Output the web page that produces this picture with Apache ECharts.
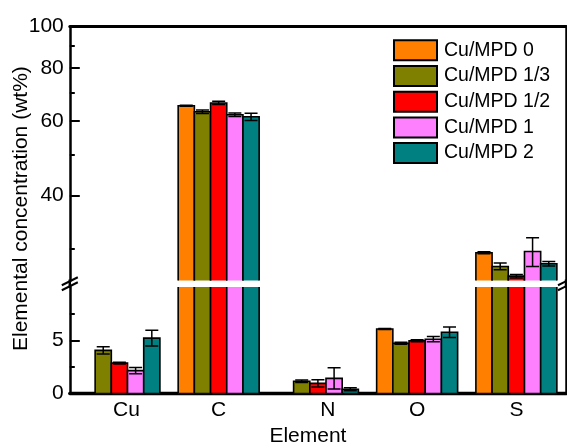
<!DOCTYPE html>
<html>
<head>
<meta charset="utf-8">
<script src="https://cdn.jsdelivr.net/npm/echarts@6/dist/echarts.min.js"></script>
<style>
  html, body { margin: 0; padding: 0; background: #fff; }
  #chart { width: 567px; height: 448px; }
</style>
</head>
<body>
<div id="chart"></div>
<script>
// Elements on the x axis and the five Cu/MPD ratios
const categories = ['Cu', 'C', 'N', 'O', 'S'];
const seriesNames = ['Cu/MPD 0', 'Cu/MPD 1/3', 'Cu/MPD 1/2', 'Cu/MPD 1', 'Cu/MPD 2'];

// Elemental concentration (wt%) and its error, ordered as categories
const mpd0 = [0, 65.1, 0, 6.05, 29.3];
const mpd0Err = [0, 0.2, 0, 0.05, 0.15];
const mpd13 = [4.05, 63.0, 1.15, 4.72, 27.2];
const mpd13Err = [0.33, 0.6, 0.12, 0.1, 0.5];
const mpd12 = [2.85, 66.1, 0.95, 4.95, 25.8];
const mpd12Err = [0.08, 0.6, 0.33, 0.1, 0.25];
const mpd1 = [2.15, 62.0, 1.42, 5.1, 29.5];
const mpd1Err = [0.3, 0.6, 1.0, 0.25, 2.3];
const mpd2 = [5.2, 61.3, 0.4, 5.75, 27.6];
const mpd2Err = [0.75, 1.2, 0.15, 0.5, 0.35];

// Broken y axis: linear below the break, logarithmic above it
const lowerRange = [0, 10];
const lowerTicks = [0, 5];
const lowerMinorTicks = [2.5, 7.5];
const upperRange = [25.2, 100];
const upperTicks = [40, 60, 80, 100];
const upperMinorTicks = [30, 50, 70, 90];

const palette = ['#FF8000', '#808000', '#FF0000', '#FF80FF', '#008080'];
const FONT = '"Liberation Sans", Arial, Helvetica, sans-serif';

// Plot frame layout (px)
const LEFT = 69.8, RIGHT = 566, TOP = 26.7;
const BREAK_TOP = 280.5, BREAK_BOTTOM = 287, BOTTOM = 393.5;
const BAR_RATIO = 0.1632;

const groups = [
  { name: seriesNames[0], values: mpd0, errors: mpd0Err },
  { name: seriesNames[1], values: mpd13, errors: mpd13Err },
  { name: seriesNames[2], values: mpd12, errors: mpd12Err },
  { name: seriesNames[3], values: mpd1, errors: mpd1Err },
  { name: seriesNames[4], values: mpd2, errors: mpd2Err }
];

function makeBar(k, isUpper) {
  return function (params, api) {
    const j = api.value(0);
    const v = api.value(1);
    const e = api.value(2);
    if (isUpper && !(v > upperRange[0])) return null;
    const w = api.size([1, 0], [j, 1])[0] * BAR_RATIO;
    const top = api.coord([j, v]);
    const cx = top[0] + (k - (groups.length - 1) / 2) * w;
    const baseY = isUpper ? api.coord([j, upperRange[0]])[1] + 8 : api.coord([j, 0])[1];
    const children = [{
      type: 'rect',
      shape: { x: cx - w / 2, y: top[1], width: w, height: baseY - top[1] },
      style: { fill: palette[k], stroke: '#000', lineWidth: 1.6 }
    }];
    if (e > 0) {
      const yHi = api.coord([j, v + e])[1];
      const yLo = api.coord([j, v - e])[1];
      const cap = 6.5;
      const s = { stroke: '#000', lineWidth: 1.5 };
      children.push(
        { type: 'line', shape: { x1: cx, y1: yHi, x2: cx, y2: yLo }, style: s },
        { type: 'line', shape: { x1: cx - cap, y1: yHi, x2: cx + cap, y2: yHi }, style: s },
        { type: 'line', shape: { x1: cx - cap, y1: yLo, x2: cx + cap, y2: yLo }, style: s }
      );
    }
    return { type: 'group', children: children };
  };
}

const series = [];
groups.forEach(function (g, k) {
  const data = categories.map(function (c, j) { return [j, g.values[j], g.errors[j]]; });
  [true, false].forEach(function (isUpper) {
    series.push({
      type: 'custom',
      name: g.name,
      coordinateSystem: 'cartesian2d',
      xAxisIndex: isUpper ? 0 : 1,
      yAxisIndex: isUpper ? 0 : 3,
      clip: true,
      lineStyle: { width: 0.01 },
      itemStyle: { color: palette[k] },
      encode: { x: 0, y: 1 },
      data: data,
      renderItem: makeBar(k, isUpper)
    });
  });
});

function frameLine(width) {
  return { show: true, onZero: false, lineStyle: { color: '#000', width: width } };
}
const noLine = { show: false };
const noSplit = { show: false };
const labelFont = { fontSize: 21, color: '#000', fontFamily: FONT };

function tickStyle(length, values) {
  return { show: true, inside: true, length: length, customValues: values,
           lineStyle: { color: '#000', width: 2 } };
}

const gridW = RIGHT - LEFT;

const option = {
  animation: false,
  backgroundColor: '#fff',
  textStyle: { fontFamily: FONT },
  grid: [
    { left: LEFT, top: TOP, width: gridW, height: BREAK_TOP - TOP, containLabel: false, outerBoundsMode: 'none' },
    { left: LEFT, top: BREAK_BOTTOM, width: gridW, height: BOTTOM - BREAK_BOTTOM, containLabel: false, outerBoundsMode: 'none' }
  ],
  legend: {
    data: seriesNames,
    orient: 'vertical',
    left: 393,
    top: 39.3,
    padding: 0,
    itemWidth: 43,
    itemHeight: 20,
    itemGap: 3.7,
    icon: 'rect',
    itemStyle: { borderColor: '#000', borderWidth: 2 },
    textStyle: { fontSize: 19.5, color: '#000', fontFamily: FONT, padding: [0, 0, 0, 2] },
    selectedMode: false
  },
  xAxis: [
    {
      gridIndex: 0, type: 'category', data: categories, position: 'top',
      axisLine: frameLine(3), axisTick: { show: false }, axisLabel: { show: false }, splitLine: noSplit
    },
    {
      gridIndex: 1, type: 'category', data: categories, position: 'bottom',
      axisLine: frameLine(3.4), axisTick: { show: false }, splitLine: noSplit,
      axisLabel: Object.assign({
        interval: 0,
        hideOverlap: false,
        margin: 6,
        formatter: function (v) { return '{' + (v === 'Cu' ? 'cu' : v === 'N' ? 'n' : 'plain') + '|' + v + '}'; },
        rich: { plain: {}, cu: { padding: [0, 0, 0, 14] }, n: { padding: [0, 0, 0, 20] } }
      }, labelFont),
      name: 'Element',
      nameLocation: 'middle',
      nameGap: 32,
      nameTextStyle: Object.assign({ padding: [0, 20, 0, 0] }, labelFont)
    }
  ],
  yAxis: [
    {
      gridIndex: 0, type: 'log', logBase: 10, min: upperRange[0], max: upperRange[1], position: 'left',
      axisLine: frameLine(2.5), splitLine: noSplit, minorTick: { show: false },
      axisTick: tickStyle(10, upperTicks),
      axisLabel: Object.assign({ margin: 6, customValues: upperTicks }, labelFont)
    },
    {
      gridIndex: 0, type: 'log', logBase: 10, min: upperRange[0], max: upperRange[1], position: 'left',
      axisLine: noLine, splitLine: noSplit, axisLabel: { show: false },
      axisTick: tickStyle(5, upperMinorTicks)
    },
    {
      gridIndex: 0, type: 'log', logBase: 10, min: upperRange[0], max: upperRange[1], position: 'right',
      axisLine: frameLine(2.5), splitLine: noSplit, axisTick: { show: false }, axisLabel: { show: false }
    },
    {
      gridIndex: 1, type: 'value', min: lowerRange[0], max: lowerRange[1], position: 'left',
      axisLine: frameLine(2.5), splitLine: noSplit,
      axisTick: tickStyle(10, lowerTicks),
      axisLabel: Object.assign({ margin: 6, customValues: lowerTicks }, labelFont)
    },
    {
      gridIndex: 1, type: 'value', min: lowerRange[0], max: lowerRange[1], position: 'left',
      axisLine: noLine, splitLine: noSplit, axisLabel: { show: false },
      axisTick: tickStyle(5, lowerMinorTicks)
    },
    {
      gridIndex: 1, type: 'value', min: lowerRange[0], max: lowerRange[1], position: 'right',
      axisLine: frameLine(2.5), splitLine: noSplit, axisTick: { show: false }, axisLabel: { show: false }
    }
  ],
  series: series
};

// Axis-break marks on both frame edges and the vertical axis title
const breakMid = (BREAK_TOP + BREAK_BOTTOM) / 2;
function breakMarks(x) {
  const s = { stroke: '#000', lineWidth: 2 };
  return [
    { type: 'line', shape: { x1: x, y1: BREAK_TOP - 1, x2: x, y2: BREAK_BOTTOM + 1 }, style: { stroke: '#000', lineWidth: 2.5 } },
    { type: 'line', shape: { x1: x - 8, y1: breakMid + 1.5, x2: x + 8, y2: breakMid - 6.5 }, style: s },
    { type: 'line', shape: { x1: x - 8, y1: breakMid + 6.5, x2: x + 8, y2: breakMid - 1.5 }, style: s }
  ];
}
option.graphic = {
  elements: breakMarks(LEFT).concat(breakMarks(RIGHT)).concat([{
    type: 'text',
    x: 21,
    y: (TOP + BOTTOM) / 2 - 1.5,
    rotation: Math.PI / 2,
    style: {
      text: 'Elemental concentration (wt%)',
      fontSize: 21, fontFamily: FONT, fill: '#000',
      align: 'center', verticalAlign: 'middle'
    }
  }])
};

const chart = echarts.init(document.getElementById('chart'), null, { renderer: 'canvas' });
chart.setOption(option);
</script>
</body>
</html>
